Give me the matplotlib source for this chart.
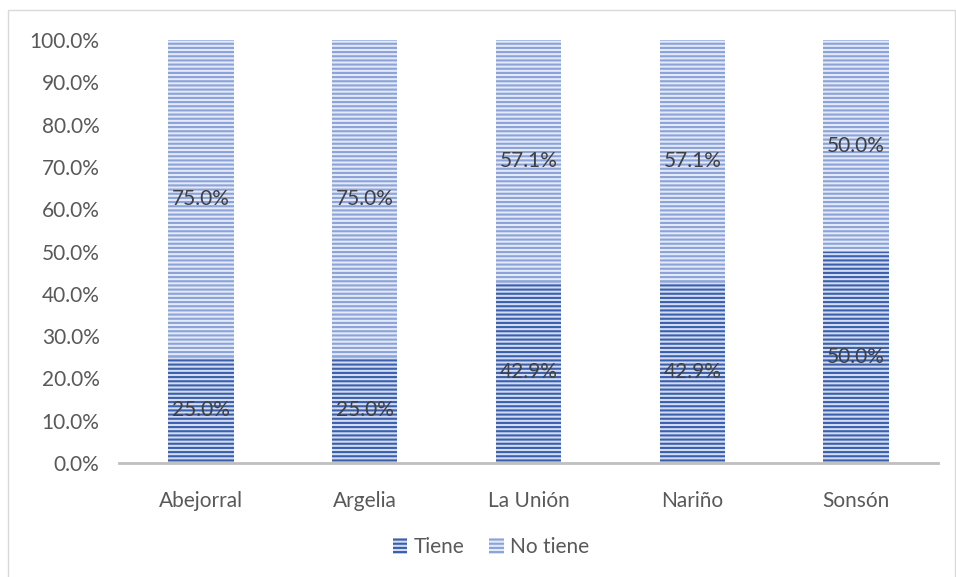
import matplotlib
matplotlib.use("Agg")
import matplotlib.pyplot as plt
from matplotlib.patches import Rectangle
import numpy as np

categories = ["Abejorral", "Argelia", "La Unión", "Nariño", "Sonsón"]
tiene = [25.0, 25.0, 42.9, 42.9, 50.0]
no_tiene = [75.0, 75.0, 57.1, 57.1, 50.0]
series_names = ["Tiene", "No tiene"]

plt.rcParams['font.family'] = ['Lato', 'DejaVu Sans']
plt.rcParams['hatch.linewidth'] = 1.5

W, H = 956, 577
fig = plt.figure(figsize=(W / 100, H / 100), dpi=100)
ax = fig.add_axes([119 / W, 1 - 463 / H, (938 - 119) / W, (463 - 40) / H])

x = np.arange(len(categories))
bw = 0.4
b1 = ax.bar(x, tiene, bw, color="#D3DCF1", edgecolor="#3A5FAD", hatch="----",
            linewidth=0, label=series_names[0])
b2 = ax.bar(x, no_tiene, bw, bottom=tiene, color="#E3E9F7", edgecolor="#8CA3D9",
            hatch="----", linewidth=0, label=series_names[1])

for i in range(len(categories)):
    ax.text(x[i], tiene[i] / 2, f"{tiene[i]:.1f}%", ha="center", va="center",
            fontsize=15, color="#404040")
    ax.text(x[i], tiene[i] + no_tiene[i] / 2, f"{no_tiene[i]:.1f}%", ha="center",
            va="center", fontsize=15, color="#404040")

ax.set_xlim(-0.5, len(categories) - 0.5)
ax.set_ylim(0, 100)
ax.set_yticks(np.arange(0, 101, 10))
ax.set_yticklabels([f"{v:.1f}%" for v in np.arange(0, 101, 10)])
ax.set_xticks(x)
ax.set_xticklabels(categories)
ax.tick_params(axis="both", length=0, labelsize=15, labelcolor="#595959")
ax.tick_params(axis="y", pad=14)
ax.tick_params(axis="x", pad=20)
for s in ["top", "right", "left"]:
    ax.spines[s].set_visible(False)
ax.spines["bottom"].set_color("#BFBFBF")
ax.spines["bottom"].set_linewidth(2)

leg = fig.legend(handles=[b1, b2], labels=series_names, loc="center",
                 bbox_to_anchor=(491 / W, 1 - 547 / H), ncol=2, frameon=False,
                 fontsize=15, handlelength=0.7, handleheight=0.8,
                 handletextpad=0.3, columnspacing=1.2)
for t in leg.get_texts():
    t.set_color("#595959")

fig.patches.append(Rectangle((8 / W, -0.01), 1 - 8 / W - 1 / W, 1 - 10 / H + 0.01,
                             transform=fig.transFigure, fill=False,
                             edgecolor="#D9D9D9", linewidth=1))

fig.savefig("out.png", dpi=100)
